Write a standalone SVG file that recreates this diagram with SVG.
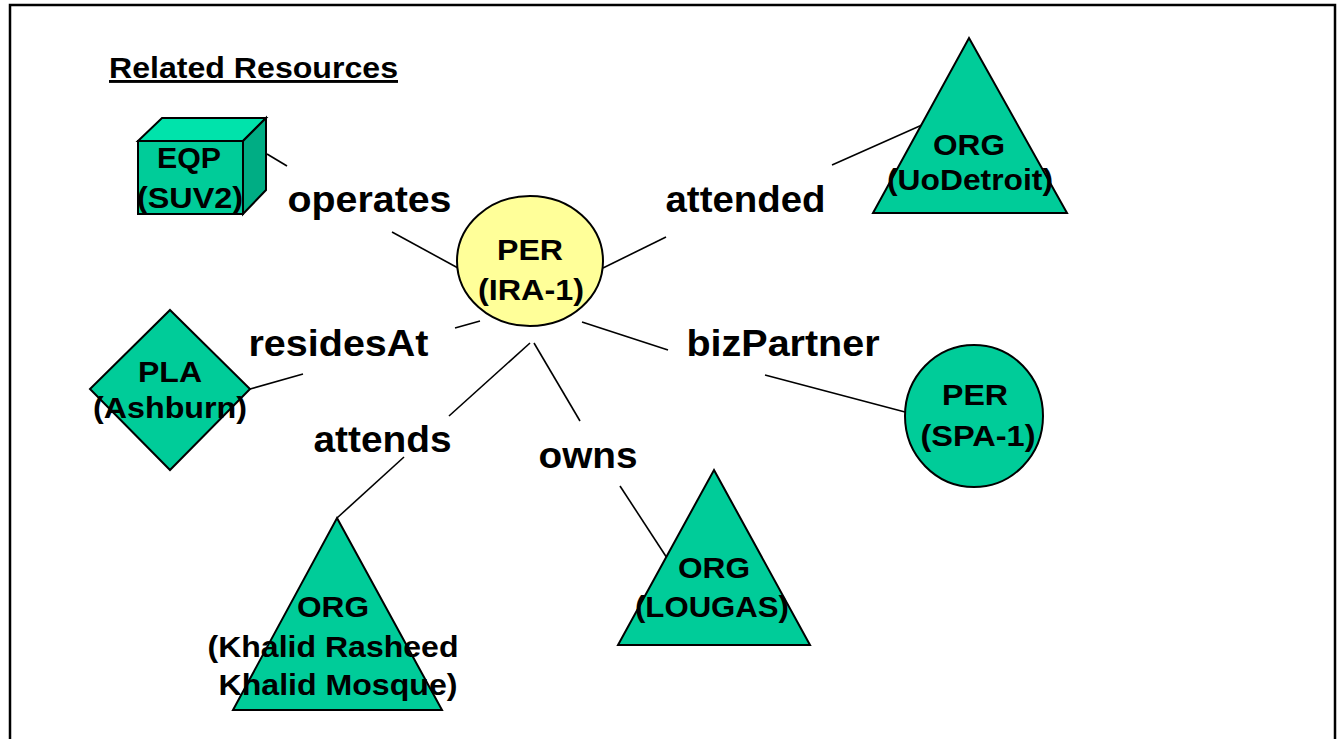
<svg xmlns="http://www.w3.org/2000/svg" width="1342" height="739" viewBox="0 0 1342 739">
<style>
.node{fill:#00cc99;stroke:#000;stroke-width:2;stroke-linejoin:miter}
.nt{font-family:"Liberation Sans",Arial,sans-serif;font-weight:bold;font-size:30px;fill:#000;text-anchor:middle}
.rt{font-family:"Liberation Sans",Arial,sans-serif;font-weight:bold;font-size:36px;fill:#000;text-anchor:middle}
.conn line{stroke:#000;stroke-width:1.6}
</style>
<rect x="0" y="0" width="1342" height="739" fill="#ffffff"/>
<rect x="10" y="5" width="1325" height="780" fill="none" stroke="#000" stroke-width="2.5"/>
<text x="109" y="78" font-family="Liberation Sans, Arial, sans-serif" font-weight="bold" font-size="29" textLength="289" lengthAdjust="spacingAndGlyphs" text-decoration="underline">Related Resources</text>

<g class="conn" id="connectors">
<line x1="267" y1="154" x2="287" y2="166"/>
<line x1="392" y1="232" x2="458" y2="268"/>
<line x1="603" y1="268" x2="666" y2="237"/>
<line x1="832" y1="165" x2="922" y2="125"/>
<line x1="455" y1="328" x2="480" y2="321"/>
<line x1="250" y1="389" x2="303" y2="374"/>
<line x1="582" y1="322" x2="668" y2="350"/>
<line x1="765" y1="375" x2="905" y2="412"/>
<line x1="530" y1="343" x2="449" y2="416"/>
<line x1="404" y1="457" x2="337" y2="518"/>
<line x1="534" y1="343" x2="580" y2="421"/>
<line x1="620" y1="486" x2="667" y2="558"/>
</g>

<g id="eqp-suv2">
<polygon points="138,141 162,118 266,118 243,141" fill="#00e3ab" stroke="#000" stroke-width="2"/>
<polygon points="243,141 266,118 266,190 243,214" fill="#00ad84" stroke="#000" stroke-width="2"/>
<rect x="138" y="141" width="105" height="73" class="node"/>
<text class="nt" x="189" y="168" textLength="64" lengthAdjust="spacingAndGlyphs">EQP</text>
<text class="nt" x="190" y="208" textLength="106" lengthAdjust="spacingAndGlyphs">(SUV2)</text>
</g>

<g id="per-ira1">
<ellipse cx="530" cy="261" rx="73" ry="65" fill="#ffff99" stroke="#000" stroke-width="2"/>
<text class="nt" x="530" y="260" textLength="66" lengthAdjust="spacingAndGlyphs">PER</text>
<text class="nt" x="531" y="300" textLength="106" lengthAdjust="spacingAndGlyphs">(IRA-1)</text>
</g>

<g id="org-uodetroit">
<polygon points="969,38 1067,213 873,213" class="node"/>
<text class="nt" x="969" y="155" textLength="72" lengthAdjust="spacingAndGlyphs">ORG</text>
<text class="nt" x="970" y="190" textLength="166" lengthAdjust="spacingAndGlyphs">(UoDetroit)</text>
</g>

<g id="pla-ashburn">
<polygon points="170,310 250,389 170,470 90,389" class="node"/>
<text class="nt" x="170" y="382" textLength="64" lengthAdjust="spacingAndGlyphs">PLA</text>
<text class="nt" x="170" y="418" textLength="154" lengthAdjust="spacingAndGlyphs">(Ashburn)</text>
</g>

<g id="per-spa1">
<ellipse cx="974" cy="416" rx="69" ry="71" class="node"/>
<text class="nt" x="975" y="405" textLength="66" lengthAdjust="spacingAndGlyphs">PER</text>
<text class="nt" x="978" y="446" textLength="115" lengthAdjust="spacingAndGlyphs">(SPA-1)</text>
</g>

<g id="org-khalid">
<polygon points="337,518 442,710 233,710" class="node"/>
<text class="nt" x="333" y="617" textLength="72" lengthAdjust="spacingAndGlyphs">ORG</text>
<text class="nt" x="333" y="657" textLength="251" lengthAdjust="spacingAndGlyphs">(Khalid Rasheed</text>
<text class="nt" x="338" y="695" textLength="239" lengthAdjust="spacingAndGlyphs">Khalid Mosque)</text>
</g>

<g id="org-lougas">
<polygon points="714,470 810,645 618,645" class="node"/>
<text class="nt" x="714" y="578" textLength="72" lengthAdjust="spacingAndGlyphs">ORG</text>
<text class="nt" x="712" y="617" textLength="154" lengthAdjust="spacingAndGlyphs">(LOUGAS)</text>
</g>

<g id="labels">
<text class="rt" x="369.5" y="212" textLength="164" lengthAdjust="spacingAndGlyphs">operates</text>
<text class="rt" x="745.5" y="212" textLength="160" lengthAdjust="spacingAndGlyphs">attended</text>
<text class="rt" x="338.5" y="356" textLength="180" lengthAdjust="spacingAndGlyphs">residesAt</text>
<text class="rt" x="783" y="356" textLength="193" lengthAdjust="spacingAndGlyphs">bizPartner</text>
<text class="rt" x="382.5" y="452" textLength="138" lengthAdjust="spacingAndGlyphs">attends</text>
<text class="rt" x="588" y="468" textLength="99" lengthAdjust="spacingAndGlyphs">owns</text>
</g>
</svg>
